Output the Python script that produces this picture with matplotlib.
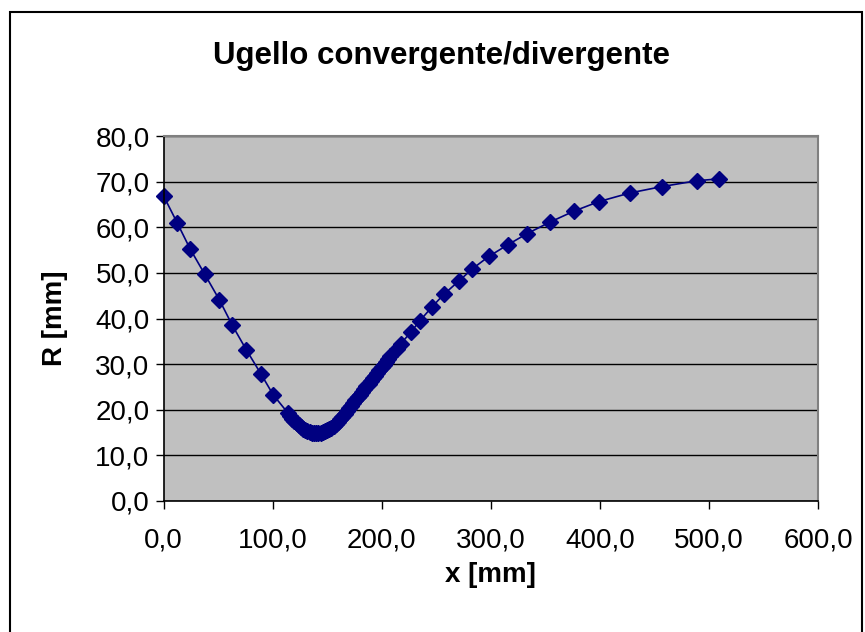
import matplotlib
matplotlib.use("Agg")
import matplotlib.pyplot as plt
from matplotlib.patches import Rectangle
from matplotlib.ticker import FuncFormatter

plt.rcParams['font.family'] = ['Liberation Sans', 'DejaVu Sans']

# Profilo dell'ugello: x [mm], R [mm]
x_conv = [0.0, 12.7, 24.3, 37.8, 51.2, 63.1, 76.0, 89.2, 100.5]
r_conv = [66.9, 60.9, 55.3, 49.7, 44.1, 38.5, 33.1, 27.9, 23.3]

x_gola = [114, 116, 118, 120, 122, 124, 126, 128, 130, 132, 134, 136, 138, 140,
          142, 144, 146, 148, 150, 152, 154, 156, 158, 160, 162, 164, 166, 168,
          170, 172, 174, 176, 178, 180, 182, 184, 186, 188, 190, 192, 194, 196,
          198, 200, 202, 204, 206, 208]
r_gola = [19.3, 18.6, 18.0, 17.5, 17.0, 16.6, 16.2, 15.8, 15.5, 15.3, 15.1, 15.0, 14.9, 14.9,
          14.9, 15.0, 15.1, 15.3, 15.5, 15.8, 16.1, 16.5, 16.9, 17.4, 17.9, 18.5, 19.1, 19.7,
          20.3, 20.9, 21.5, 22.1, 22.7, 23.3, 23.9, 24.5, 25.1, 25.7, 26.3, 26.9, 27.5, 28.1,
          28.7, 29.3, 29.9, 30.5, 31.1, 31.7]

x_div = [213.6, 217.3, 226.7, 235.0, 246.0, 257.0, 270.7, 283.2, 298.2, 315.9,
         333.3, 354.0, 376.0, 398.8, 427.3, 456.6, 489.0, 509.1]
r_div = [33.3, 34.4, 37.0, 39.5, 42.5, 45.3, 48.2, 50.9, 53.6, 56.2,
         58.6, 61.1, 63.5, 65.6, 67.5, 68.9, 70.2, 70.6]

x = x_conv + x_gola + x_div
r = r_conv + r_gola + r_div

fig = plt.figure(figsize=(8.65, 6.32), dpi=100)
fig.patches.append(Rectangle((10 / 865, -0.01), 852 / 865, 1 - 12 / 632 + 0.01,
                             transform=fig.transFigure, fill=False,
                             edgecolor='black', linewidth=1.5))

ax = fig.add_axes([163.5 / 865, 1 - 501 / 632, (818 - 163.5) / 865, (501 - 136) / 632])
ax.set_facecolor('#C0C0C0')

ax.plot(x, r, color='#000080', linewidth=1.2, marker='D', markersize=8.5,
        markerfacecolor='#000080', markeredgecolor='#000080', clip_on=False)

ax.set_xlim(0, 600)
ax.set_ylim(0, 80)
ax.set_xticks(range(0, 601, 100))
ax.set_yticks(range(0, 81, 10))
virgola = FuncFormatter(lambda v, p: f"{v:.1f}".replace('.', ','))
ax.xaxis.set_major_formatter(virgola)
ax.yaxis.set_major_formatter(virgola)

ax.grid(True, axis='y', color='black', linewidth=1.0)
ax.set_axisbelow(True)
ax.tick_params(direction='out', length=6, width=1, labelsize=20, color='black')
ax.tick_params(axis='x', pad=13)
ax.tick_params(axis='y', pad=4)
for s in ['top', 'right']:
    ax.spines[s].set_color('#808080')
    ax.spines[s].set_linewidth(1.5)
for s in ['left', 'bottom']:
    ax.spines[s].set_color('black')
    ax.spines[s].set_linewidth(1.2)

ax.set_xlabel("x [mm]", fontsize=20, fontweight='bold', labelpad=6)
ax.set_ylabel("R [mm]", fontsize=20, fontweight='bold', labelpad=20)
fig.text(0.51, 1 - 56 / 632, "Ugello convergente/divergente", ha='center', va='center',
         fontsize=22.5, fontweight='bold')

fig.savefig("out.png", dpi=100)
